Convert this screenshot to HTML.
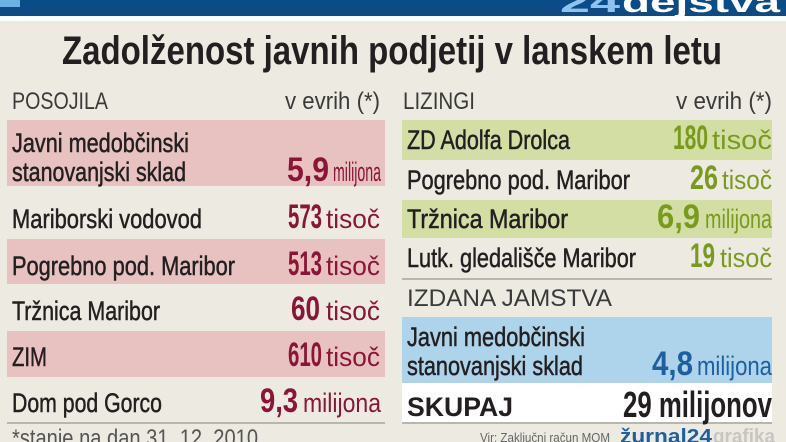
<!DOCTYPE html>
<html><head><meta charset="utf-8"><style>
html,body{margin:0;padding:0;background:#edeae2;}
svg{display:block}
</style></head><body>
<svg width="786" height="442" viewBox="0 0 786 442" xmlns="http://www.w3.org/2000/svg" font-family="Liberation Sans, DejaVu Sans, sans-serif">
<rect width="786" height="442" fill="#edeae2"/>
<rect x="0" y="0" width="786" height="16" fill="#0b4c86"/>
<rect x="0" y="16" width="786" height="5" fill="#ffffff"/>
<rect x="0" y="0" width="20" height="7" fill="#6fb0e3"/>
<text x="560" y="12" font-size="30" font-weight="bold" fill="#8fc3ea" textLength="60" lengthAdjust="spacingAndGlyphs">24</text>
<text x="622" y="12" font-size="30" font-weight="bold" fill="#ffffff" textLength="158" lengthAdjust="spacingAndGlyphs">dejstva</text>

<text x="62" y="64" font-size="40" font-weight="bold" fill="#231f20" textLength="660" lengthAdjust="spacingAndGlyphs">Zadolženost javnih podjetij v lanskem letu</text>

<g font-size="24" fill="#3a3a3a">
<text x="12" y="109" textLength="96" lengthAdjust="spacingAndGlyphs">POSOJILA</text>
<text x="285" y="109" textLength="95" lengthAdjust="spacingAndGlyphs">v evrih (*)</text>
<text x="403" y="109" textLength="72" lengthAdjust="spacingAndGlyphs">LIZINGI</text>
<text x="676" y="109" textLength="96" lengthAdjust="spacingAndGlyphs">v evrih (*)</text>
<text x="407" y="306" textLength="205" lengthAdjust="spacingAndGlyphs">IZDANA JAMSTVA</text>
</g>

<g fill="#e8c2c0">
<rect x="7" y="120" width="378" height="66"/>
<rect x="7" y="239" width="378" height="45"/>
<rect x="7" y="331" width="378" height="46"/>
</g>
<rect x="7" y="422" width="378" height="2" fill="#b9b6ae"/>
<g fill="#d2dea4">
<rect x="402" y="120" width="370" height="40"/>
<rect x="402" y="200" width="370" height="38"/>
</g>
<rect x="402" y="278" width="370" height="2" fill="#b9b6ae"/>
<rect x="402" y="317" width="370" height="66" fill="#aed4ec"/>
<rect x="402" y="383" width="370" height="40" fill="#ffffff"/>
<rect x="402" y="422" width="370" height="2" fill="#b9b6ae"/>

<g font-size="27" fill="#231f20" stroke="#231f20" stroke-width="0.5">
<text x="12" y="152" textLength="177" lengthAdjust="spacingAndGlyphs">Javni medobčinski</text>
<text x="12" y="181" textLength="174" lengthAdjust="spacingAndGlyphs">stanovanjski sklad</text>
<text x="12" y="228" textLength="190" lengthAdjust="spacingAndGlyphs">Mariborski vodovod</text>
<text x="12" y="275" textLength="223" lengthAdjust="spacingAndGlyphs">Pogrebno pod. Maribor</text>
<text x="12" y="320" textLength="148" lengthAdjust="spacingAndGlyphs">Tržnica Maribor</text>
<text x="12" y="366" textLength="35" lengthAdjust="spacingAndGlyphs">ZIM</text>
<text x="12" y="412" textLength="150" lengthAdjust="spacingAndGlyphs">Dom pod Gorco</text>

<text x="407" y="149" textLength="163" lengthAdjust="spacingAndGlyphs">ZD Adolfa Drolca</text>
<text x="407" y="189" textLength="223" lengthAdjust="spacingAndGlyphs">Pogrebno pod. Maribor</text>
<text x="407" y="228" textLength="161" lengthAdjust="spacingAndGlyphs">Tržnica Maribor</text>
<text x="407" y="267" textLength="229" lengthAdjust="spacingAndGlyphs">Lutk. gledališče Maribor</text>
<text x="407" y="346" textLength="178" lengthAdjust="spacingAndGlyphs">Javni medobčinski</text>
<text x="407" y="375" textLength="176" lengthAdjust="spacingAndGlyphs">stanovanjski sklad</text>
<text x="407" y="416" font-weight="bold" stroke-width="0" textLength="106" lengthAdjust="spacingAndGlyphs">SKUPAJ</text>
</g>

<g fill="#8a1538">
<g font-size="34" font-weight="bold">
<text x="287" y="181" textLength="42" lengthAdjust="spacingAndGlyphs">5,9</text>
<text x="288" y="228" textLength="34" lengthAdjust="spacingAndGlyphs">573</text>
<text x="288" y="275" textLength="34" lengthAdjust="spacingAndGlyphs">513</text>
<text x="291" y="320" textLength="29" lengthAdjust="spacingAndGlyphs">60</text>
<text x="288" y="366" textLength="34" lengthAdjust="spacingAndGlyphs">610</text>
<text x="260" y="412" textLength="38" lengthAdjust="spacingAndGlyphs">9,3</text>
</g>
<g font-size="27">
<text x="333" y="181" textLength="48" lengthAdjust="spacingAndGlyphs">milijona</text>
<text x="326" y="228" textLength="54" lengthAdjust="spacingAndGlyphs">tisoč</text>
<text x="326" y="275" textLength="54" lengthAdjust="spacingAndGlyphs">tisoč</text>
<text x="326" y="320" textLength="54" lengthAdjust="spacingAndGlyphs">tisoč</text>
<text x="326" y="366" textLength="54" lengthAdjust="spacingAndGlyphs">tisoč</text>
<text x="303" y="412" textLength="78" lengthAdjust="spacingAndGlyphs">milijona</text>
</g>
</g>
<g fill="#7a9a1f">
<g font-size="34" font-weight="bold">
<text x="673" y="149" textLength="35" lengthAdjust="spacingAndGlyphs">180</text>
<text x="690" y="189" textLength="28" lengthAdjust="spacingAndGlyphs">26</text>
<text x="657" y="228" textLength="43" lengthAdjust="spacingAndGlyphs">6,9</text>
<text x="690" y="267" textLength="25" lengthAdjust="spacingAndGlyphs">19</text>
</g>
<g font-size="27">
<text x="712" y="149" textLength="60" lengthAdjust="spacingAndGlyphs">tisoč</text>
<text x="722" y="189" textLength="50" lengthAdjust="spacingAndGlyphs">tisoč</text>
<text x="705" y="228" textLength="67" lengthAdjust="spacingAndGlyphs">milijona</text>
<text x="720" y="267" textLength="52" lengthAdjust="spacingAndGlyphs">tisoč</text>
</g>
</g>
<text x="652" y="375" font-size="34" font-weight="bold" fill="#1d5f9f" textLength="41" lengthAdjust="spacingAndGlyphs">4,8</text>
<text x="697" y="375" font-size="27" fill="#1d5f9f" textLength="75" lengthAdjust="spacingAndGlyphs">milijona</text>
<text x="623" y="417" font-size="36" font-weight="bold" fill="#231f20" textLength="149" lengthAdjust="spacingAndGlyphs">29 milijonov</text>

<text x="12" y="446" font-size="24" fill="#555" textLength="246" lengthAdjust="spacingAndGlyphs">*stanje na dan 31. 12. 2010</text>
<text x="480" y="442" font-size="13" fill="#666" textLength="130" lengthAdjust="spacingAndGlyphs">Vir: Zaključni račun MOM</text>
<text x="620" y="443" font-size="20" font-weight="bold" fill="#1d5f9f" textLength="92" lengthAdjust="spacingAndGlyphs">žurnal24</text>
<text x="713" y="443" font-size="20" font-weight="bold" fill="#c8c6c0" textLength="62" lengthAdjust="spacingAndGlyphs">grafika</text>
</svg>
</body></html>
